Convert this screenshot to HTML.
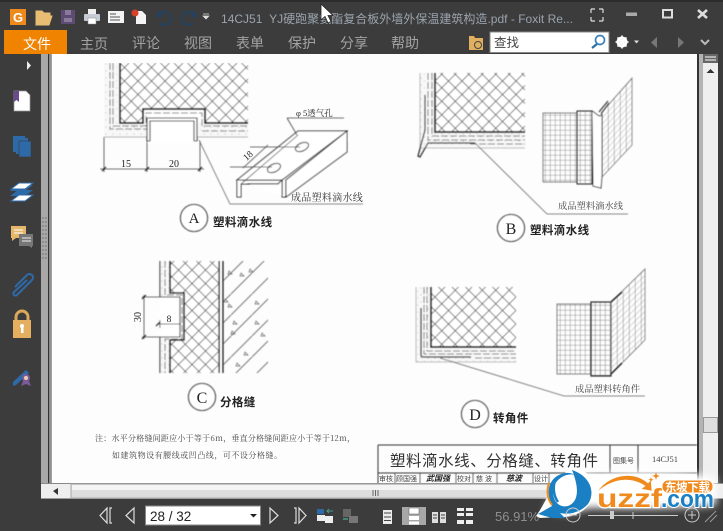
<!DOCTYPE html>
<html><head><meta charset="utf-8"><style>
html,body{margin:0;padding:0;background:#3c3c3c;width:723px;height:531px;overflow:hidden}
svg{display:block;font-family:"Liberation Sans","Noto Sans CJK SC",sans-serif}
</style></head><body>
<svg width="723" height="531" viewBox="0 0 723 531" xmlns="http://www.w3.org/2000/svg">
<defs>
<pattern id="dia" width="13.5" height="13.5" patternUnits="userSpaceOnUse" patternTransform="translate(3 0)">
<path d="M0 0L13.500 13.500M13.500 0L0 13.500" stroke="#666" stroke-width=".9"/></pattern>
<pattern id="dot" width="7" height="7" patternUnits="userSpaceOnUse"><rect width="7" height="7" fill="#f8f8f8"/><circle cx="1" cy="1" r=".55" fill="#aaa"/><circle cx="4.500" cy="4" r=".5" fill="#bbb"/></pattern>
<pattern id="grid" width="5" height="5" patternUnits="userSpaceOnUse"><path d="M0 0H5M0 0V5" stroke="#777" stroke-width=".8" fill="none"/></pattern>
<pattern id="gridD" width="5" height="5" patternUnits="userSpaceOnUse"><path d="M0 0H5M0 0V5" stroke="#666" stroke-width=".8" fill="none"/></pattern>
<pattern id="skew" width="6" height="6" patternUnits="userSpaceOnUse" patternTransform="translate(602 112) skewY(-48)"><path d="M0 0H6M0 0V6" stroke="#777" stroke-width=".8" fill="none"/></pattern>
<pattern id="skew2" width="6" height="6" patternUnits="userSpaceOnUse" patternTransform="translate(611 302) skewY(-44)"><path d="M0 0H6M0 0V6" stroke="#777" stroke-width=".8" fill="none"/></pattern>
<pattern id="conc" width="21" height="21" patternUnits="userSpaceOnUse"><path d="M0 21L21 0" stroke="#666" stroke-width=".9"/></pattern>
<filter id="b" x="0" y="0" width="100%" height="100%"><feGaussianBlur stdDeviation=".5"/></filter>
<filter id="t" x="-5%" y="-5%" width="110%" height="110%"><feGaussianBlur stdDeviation=".35"/></filter>
<filter id="glow" x="-20%" y="-20%" width="140%" height="140%"><feGaussianBlur stdDeviation="4"/></filter>
</defs>

<rect width="723" height="531" fill="#3c3c3c"/>
<rect x="0" y="0" width="723" height="2" fill="#2c2c2c"/>

<!-- document area -->
<rect x="41" y="54" width="7" height="445" fill="#a8a8a8"/>
<rect x="48" y="54" width="1.500" height="429" fill="#333"/>
<rect x="49.500" y="54" width="1" height="429" fill="#ddd"/>
<rect x="50.500" y="54" width="1" height="429" fill="#444"/>
<rect x="51.500" y="54" width="646" height="429" fill="#fdfdfd"/>
<rect x="697" y="54" width="2" height="429" fill="#333"/>
<rect x="699" y="54" width="4" height="445" fill="#b4b4b4"/>
<rect x="703" y="54" width="15" height="445" fill="#efefef"/>
<rect x="718" y="54" width="5" height="445" fill="#3c3c3c"/>
<rect x="703" y="54" width="15" height="9" fill="#666"/>
<path d="M705 57H716M705 60H716" stroke="#fff" stroke-width="1"/>
<path d="M710.500 69l-4 4h8z" fill="#333"/>
<rect x="703.500" y="417.500" width="14" height="15" fill="#dedede" stroke="#999"/>

<g filter="url(#b)">
<!-- A -->
<rect x="104" y="63" width="144" height="74" fill="url(#dot)"/>
<path d="M248 137H197V118H147V137H104" fill="none" stroke="#999" stroke-width=".8"/>
<rect x="120" y="63" width="128" height="60" fill="#fff"/>
<rect x="120" y="63" width="128" height="60" fill="url(#dia)"/>
<path d="M143 123V109H205V123" fill="#fff"/>
<rect x="147" y="118" width="50" height="25" fill="#fff"/>
<path d="M120 63V123H143V109H205V123H248" fill="none" stroke="#111" stroke-width="1.800"/>
<path d="M110 63V129H147M113 63V126H146V113H202V126H248M202 131H248" fill="none" stroke="#555" stroke-width=".8" stroke-dasharray="7 2"/>
<path d="M147 141V118H197V141M150 141V121H194V141M147 141H150M194 141H197" fill="none" stroke="#222" stroke-width="1.100"/>
<path d="M104 137V172M147 141V172M200 141V172M100 169H204" fill="none" stroke="#444" stroke-width=".8"/>
<path d="M102 171l4-4M145 171l4-4M198 171l4-4" stroke="#111" stroke-width="1.100"/>
<path d="M199 140L230 204H363" fill="none" stroke="#666" stroke-width=".8"/>
<path d="M237 180L298 131H347L282 180Z" fill="#fff" stroke="#222" stroke-width="1"/>
<path d="M237 180V197H241V184H278L282 180V197H286V180L347 131V152L286 197" fill="#fff" stroke="#222" stroke-width="1"/>
<path d="M241 184L298 135" stroke="#444" stroke-width=".8"/>
<ellipse cx="302" cy="147" rx="7" ry="4" transform="rotate(-25 302 147)" fill="#fff" stroke="#222"/>
<ellipse cx="274" cy="168" rx="7" ry="4" transform="rotate(-25 274 168)" fill="#fff" stroke="#222"/>
<path d="M250 147H300M230 167H272M243 168L268 145M287 118L297 135M287 118H344M347 131L347 142" fill="none" stroke="#444" stroke-width=".8"/>
<circle cx="194" cy="218" r="13.500" fill="#fff" stroke="#222" stroke-width="1.100"/>

<!-- B -->
<rect x="420" y="73" width="105" height="75" fill="url(#dot)"/>
<rect x="435" y="73" width="90" height="59" fill="#fff"/>
<rect x="435" y="73" width="90" height="59" fill="url(#dia)"/>
<path d="M435 73V132H525" fill="none" stroke="#111" stroke-width="1.800"/>
<path d="M420 73V148H525" fill="none" stroke="#aaa" stroke-width=".8"/>
<path d="M432 73V136H525M428 73V140H525M470 144H525" fill="none" stroke="#555" stroke-width=".8" stroke-dasharray="7 2"/>
<path d="M425 95V130L418 156L420 157L428 143H475" fill="none" stroke="#222" stroke-width="1.200"/>
<path d="M475 143L547 214H628" fill="none" stroke="#666" stroke-width=".8"/>
<circle cx="511" cy="228" r="13.500" fill="#fff" stroke="#222" stroke-width="1.100"/>
<rect x="543" y="113" width="34" height="69" fill="url(#grid)" stroke="#666" stroke-width=".8"/>
<rect x="577" y="111" width="15" height="73" fill="url(#gridD)" stroke="#222" stroke-width="1"/>
<path d="M602 112L632 78V145L602 177Z" fill="url(#skew)" stroke="#777" stroke-width=".8"/>
<path d="M592 111C596 113 597 116 600 116L602 115V176L601 188L593 186Z" fill="#fff" stroke="#222" stroke-width=".9"/>
<path d="M599 112L608 101M601 114L609 103" stroke="#222" stroke-width="1"/>

<!-- C -->
<rect x="160" y="261" width="10" height="112" fill="url(#dot)"/>
<rect x="170" y="261" width="49" height="112" fill="#fff"/>
<rect x="170" y="261" width="49" height="112" fill="url(#dia)"/>
<rect x="223" y="261" width="45" height="112" fill="url(#conc)"/>
<g fill="none" stroke="#666" stroke-width=".7">
<path d="M229 271l3 3h-4zM241 273l3 3h-4zM250 269l3 3h-4zM225 299l3 3h-4zM229 304l3 3h-4zM256 301l3 3h-4zM234 321l3 3h-4zM256 321l3 3h-4zM232 331l3 3h-4zM262 333l3 3h-4zM245 352l3 3h-4zM237 363l3 3h-4z"/>
</g>
<path d="M219 261V373M223 261V373" stroke="#111" stroke-width="1.200"/>
<path d="M160 297H170V293H184V340H170V337H160Z" fill="#fff"/>
<rect x="170" y="297" width="10" height="40" fill="#fff"/>
<path d="M160 261V297H180V337H160V373" fill="none" stroke="#222" stroke-width="1.100"/>
<path d="M170 261V293H184V340H170V373" fill="none" stroke="#111" stroke-width="1.600"/>
<path d="M165 261V295H182V339H165V373" fill="none" stroke="#555" stroke-width=".8" stroke-dasharray="7 2"/>
<path d="M142 297H160M142 337H160M144 295V339M158 324H181M160 320V328" fill="none" stroke="#444" stroke-width=".8"/>
<path d="M142 299l4-4M142 339l4-4M156 326l4-4" stroke="#111" stroke-width="1"/>
<circle cx="202" cy="397" r="13.500" fill="#fff" stroke="#222" stroke-width="1.100"/>

<!-- D -->
<rect x="416" y="287" width="100" height="75" fill="url(#dot)"/>
<rect x="431" y="287" width="85" height="60" fill="#fff"/>
<rect x="431" y="287" width="85" height="60" fill="url(#dia)"/>
<path d="M431 287V347H516" fill="none" stroke="#111" stroke-width="1.800"/>
<path d="M416 287V362H516" fill="none" stroke="#aaa" stroke-width=".8"/>
<path d="M427 287V351H516M424 287V354H516M475 358H516" fill="none" stroke="#555" stroke-width=".8" stroke-dasharray="7 2"/>
<path d="M421 308V355Q421 357 423 357H471" fill="none" stroke="#222" stroke-width="1.300"/>
<path d="M440 358L564 396H645" fill="none" stroke="#666" stroke-width=".8"/>
<circle cx="475" cy="414" r="13.500" fill="#fff" stroke="#222" stroke-width="1.100"/>
<rect x="557" y="304" width="34" height="70" fill="url(#grid)" stroke="#666" stroke-width=".8"/>
<rect x="591" y="302" width="20" height="74" fill="url(#gridD)" stroke="#222" stroke-width="1.200"/>
<path d="M611 302L645 269V340L611 374Z" fill="url(#skew2)" stroke="#777" stroke-width=".8"/>
<path d="M611 302L622 292M611 374L622 363" stroke="#111" stroke-width="1.400"/>

<!-- title block -->
<path d="M378 445H697M378 445V484M378 473H697M610 445V473M638 445V473" fill="none" stroke="#333" stroke-width="1"/>
<path d="M395 473V484M420 473V484M456 473V484M473 473V484M497 473V484M533 473V484M549 473V484" stroke="#444" stroke-width=".8"/>
</g>

<g filter="url(#t)" fill="#222">
<text x="126" y="167" font-family="Liberation Serif" font-size="10" text-anchor="middle">15</text>
<text x="174" y="167" font-family="Liberation Serif" font-size="10" text-anchor="middle">20</text>
<text x="296" y="116" font-size="8.500" font-family="Liberation Serif,Noto Serif CJK SC,serif">φ 5透气孔</text>
<text transform="translate(250 158) rotate(-42)" font-family="Liberation Serif" font-size="9.500" text-anchor="middle">18</text>
<text x="291" y="201" font-size="10" letter-spacing=".3" fill="#333" font-family="Noto Serif CJK SC,serif">成品塑料滴水线</text>
<text x="194" y="223" font-family="Liberation Serif" font-size="15" text-anchor="middle">A</text>
<text x="213" y="226" font-size="11.500" font-weight="700" letter-spacing=".4">塑料滴水线</text>
<text x="558" y="209" font-size="9.300" fill="#444" font-family="Noto Serif CJK SC,serif">成品塑料滴水线</text>
<text x="511" y="234" font-family="Liberation Serif" font-size="16" text-anchor="middle">B</text>
<text x="530" y="234" font-size="11.500" font-weight="700" letter-spacing=".4">塑料滴水线</text>
<text transform="translate(141 317) rotate(-90)" font-family="Liberation Serif" font-size="10" text-anchor="middle">30</text>
<text x="169" y="322" font-family="Liberation Serif" font-size="9.500" text-anchor="middle">8</text>
<text x="202" y="403" font-family="Liberation Serif" font-size="16" text-anchor="middle">C</text>
<text x="220" y="406" font-size="11.500" font-weight="700" letter-spacing=".4">分格缝</text>
<text x="95" y="441" font-size="8" fill="#444" textLength="260" font-family="Noto Serif CJK SC,serif">注：水平分格缝间距应小于等于6m，垂直分格缝间距应小于等于12m，</text>
<text x="112" y="458" font-size="8" fill="#444" textLength="170" font-family="Noto Serif CJK SC,serif">如建筑物设有腰线或凹凸线，可不设分格缝。</text>
<text x="575" y="392" font-size="9.300" fill="#444" font-family="Noto Serif CJK SC,serif">成品塑料转角件</text>
<text x="475" y="420" font-family="Liberation Serif" font-size="16" text-anchor="middle">D</text>
<text x="493" y="422" font-size="11.500" font-weight="700" letter-spacing=".4">转角件</text>
<text x="390" y="466" font-size="15.500" fill="#333" textLength="208">塑料滴水线、分格缝、转角件</text>
<text x="613" y="463" font-size="7" fill="#444">图集号</text>
<text x="652" y="462" font-family="Liberation Serif" font-size="8.500" fill="#444">14CJ51</text>
<text x="379" y="481" font-size="7" fill="#444">审核</text>
<text x="396" y="481" font-size="7" fill="#444">顾国强</text>
<text x="426" y="481" font-size="8" font-style="italic" font-weight="700">武国强</text>
<text x="457" y="481" font-size="7" fill="#444">校对</text>
<text x="476" y="481" font-size="7" fill="#444">慈 波</text>
<text x="506" y="481" font-size="8" font-style="italic" font-weight="700">慈波</text>
<text x="534" y="481" font-size="7" fill="#444">设计</text>
</g>

<!-- horizontal scrollbar -->
<rect x="41" y="483" width="682" height="16" fill="#eee"/>
<rect x="41" y="483" width="682" height="1" fill="#888"/>
<rect x="41" y="498" width="682" height="1" fill="#9a9a9a"/>
<rect x="71" y="484" width="640" height="14" fill="#dedede" stroke="#aaa"/>
<rect x="72" y="485" width="638" height="5" fill="#f4f4f4"/>
<path d="M373 490v6M375.500 490v6M378 490v6" stroke="#666"/>
<path d="M53 491l5-3v7z" fill="#333"/>

<!-- top toolbar -->
<rect x="10" y="9" width="16" height="16" fill="#ee8a1c"/>
<text x="18" y="22" font-size="13" font-weight="700" fill="#fff" text-anchor="middle">G</text>
<path d="M36 25V11H42L44 13H50V16H41L36 25H49L52 16H41" fill="#e8bc72" stroke="#e8bc72"/>
<rect x="61" y="10" width="14" height="14" fill="#5d4b73"/><rect x="65" y="10" width="6" height="5" fill="#8a7a9a"/><rect x="64" y="18" width="8" height="4" fill="#8a7a9a"/>
<rect x="88" y="9" width="8" height="5" fill="#eee"/><rect x="84" y="14" width="16" height="7" rx="1" fill="#c5ccd4"/><rect x="88" y="18" width="8" height="6" fill="#fff" stroke="#888" stroke-width=".5"/>
<rect x="108" y="11" width="16" height="12" fill="#f4f4f4"/><path d="M110 14h6M110 17h10M110 20h10" stroke="#555"/>
<path d="M136 11h6l4 4v9h-10z" fill="#f4f4f4"/><circle cx="135" cy="13" r="3.500" fill="#d9402a"/>
<path d="M160 11l-3 5h6M159 15a6.500 6.500 0 1 1 1 8" fill="none" stroke="#24425f" stroke-width="2"/>
<path d="M193 11l3 5h-6M194 15a6.500 6.500 0 1 0 -1 8" fill="none" stroke="#24425f" stroke-width="2"/>
<path d="M203 14h6M203 16l3 3 3-3z" fill="#ddd" stroke="#ddd" stroke-width=".7"/>
<text x="221" y="23" font-size="12" fill="#9aa3ad" textLength="352">14CJ51&#160;&#160;YJ硬跑聚氨酯复合板外墙外保温建筑构造.pdf - Foxit Re...</text>
<path d="M321 4V20L325 16.500L328 23L331 21.500L328 15.500H333Z" fill="#fff" stroke="#222" stroke-width=".8"/>
<path d="M591 9h4M591 9v4M603 9h-4M603 9v4M591 21h4M591 21v-4M603 21h-4M603 21v-4" stroke="#ddd" stroke-width="1.200" fill="none"/>
<rect x="626" y="12.500" width="11" height="3.500" fill="#aaa"/>
<rect x="663" y="10" width="9" height="7.500" fill="none" stroke="#ddd" stroke-width="2"/>
<path d="M698 10l9 8M707 10l-9 8" stroke="#ddd" stroke-width="2.600"/>

<!-- ribbon -->
<rect x="4" y="30" width="63" height="24" fill="#f08300"/>
<g font-size="14" fill="#a3a3a3">
<text x="23" y="49" fill="#fff">文件</text>
<text x="80" y="49">主页</text><text x="132" y="48">评论</text><text x="184" y="48">视图</text>
<text x="236" y="48">表单</text><text x="288" y="48">保护</text><text x="340" y="48">分享</text><text x="391" y="48">帮助</text>
</g>
<path d="M469 36h5l1 2h8v12h-14z" fill="#e0b060"/><circle cx="478" cy="45" r="3.500" fill="none" stroke="#444"/>
<rect x="490" y="32" width="119" height="20.500" fill="#fff" stroke="#888"/>
<text x="494" y="47" font-size="12.500" fill="#444">查找</text>
<circle cx="600" cy="40" r="4.500" fill="none" stroke="#3a80b8" stroke-width="1.700"/><path d="M597 44l-5 4" stroke="#2a70a8" stroke-width="2.200"/>
<circle cx="622" cy="42" r="4" fill="none" stroke="#fff" stroke-width="3"/>
<path d="M622 35.500v13M615.500 42h13M617.500 37.500l9 9M626.500 37.500l-9 9" stroke="#fff" stroke-width="1.600"/>
<path d="M634 40.500h5l-2.500 3z" fill="#ddd"/>
<path d="M657 37v11l-6-5.500z" fill="#777"/>
<path d="M678 37v11l6-5.500z" fill="#777"/>
<path d="M701 40l4 4 4-4" fill="none" stroke="#bbb" stroke-width="2"/>

<!-- sidebar -->
<path d="M27 61v9l4-4.500z" fill="#eee"/>
<path d="M14 91h12l4 4v16H14z" fill="#fff" stroke="#999" stroke-width=".7"/>
<path d="M14 91h5v11l-2.500-2-2.500 2z" fill="#6b4a8c"/>
<rect x="13" y="136" width="12" height="16" fill="#2f6aa8"/><rect x="16" y="138" width="12" height="16" fill="#2f6aa8"/><rect x="19" y="141" width="12" height="16" fill="#2f6aa8" stroke="#3c3c3c" stroke-width=".6"/>
<path d="M10 189l8-6h15l-8 6z" fill="#2f6aa8" transform="translate(0 7)"/>
<path d="M10 189l8-6h15l-8 6z" fill="#2f6aa8" transform="translate(0 2)"/>
<path d="M11 189l8-6h14l-8 6z" fill="#fff" stroke="#2f6aa8"/>
<path d="M11 201l8-6h14l-8 6z" fill="#fff" stroke="#2f6aa8"/>
<path d="M11 226h15v12H16l-4 3v-3h-1z" fill="#e4b76a"/><path d="M14 230h9M14 233h9" stroke="#fff"/>
<path d="M19 234h14v12h-1v2l-3-2H19z" fill="#777"/><path d="M22 238h9M22 241h9" stroke="#eee"/>
<path d="M15 287L27 275a3.500 3.500 0 0 1 5 5L17 295a2 2 0 0 1-3-3L27 280" fill="none" stroke="#2f6aa8" stroke-width="2"/>
<path d="M16 320v-3a6 6 0 0 1 12 0v3" fill="none" stroke="#d9a858" stroke-width="3"/>
<rect x="13" y="320" width="18" height="18" fill="#e4b060"/><rect x="21" y="326" width="2.500" height="7" fill="#fff"/><circle cx="22" cy="326" r="2" fill="#fff"/>
<path d="M13 382L26 370l3 3L16 385l-3 1z" fill="#2f6aa8"/>
<circle cx="26" cy="378" r="4" fill="#7a5a9a"/><circle cx="26" cy="378" r="2" fill="#e8d0b0"/><path d="M23 381l-2 5 5-2 5 2-2-5" fill="#7a5a9a"/>
<g fill="#666"><circle cx="43" cy="218" r=".7"/><circle cx="46" cy="218" r=".7"/><circle cx="43" cy="222" r=".7"/><circle cx="46" cy="222" r=".7"/><circle cx="43" cy="226" r=".7"/><circle cx="46" cy="226" r=".7"/><circle cx="43" cy="230" r=".7"/><circle cx="46" cy="230" r=".7"/><circle cx="43" cy="234" r=".7"/><circle cx="46" cy="234" r=".7"/><circle cx="43" cy="238" r=".7"/><circle cx="46" cy="238" r=".7"/><circle cx="43" cy="242" r=".7"/><circle cx="46" cy="242" r=".7"/><circle cx="43" cy="246" r=".7"/><circle cx="46" cy="246" r=".7"/><circle cx="43" cy="250" r=".7"/><circle cx="46" cy="250" r=".7"/><circle cx="43" cy="254" r=".7"/><circle cx="46" cy="254" r=".7"/><circle cx="43" cy="258" r=".7"/><circle cx="46" cy="258" r=".7"/></g>

<!-- bottom bar -->
<g fill="none" stroke="#ddd" stroke-width="1.200">
<path d="M107 508v15l-7-7.500zM112 508h-2v15h2"/>
<path d="M134 508v15l-8-7.500z"/>
<path d="M270 508v15l8-7.500z"/>
<path d="M299 508v15l7-7.500zM294 508h2v15h-2"/>
</g>
<rect x="145.500" y="506" width="115" height="19" fill="#fff" stroke="#888"/>
<text x="150" y="521" font-size="13.500" fill="#222">28 / 32</text>
<path d="M250 514h7l-3.500 3.500z" fill="#222"/>
<rect x="317" y="509" width="7" height="5" fill="#2f6aa8"/><rect x="317" y="515" width="8" height="6" fill="#eee"/><rect x="325" y="516" width="8" height="7" fill="#eee"/><path d="M333 511h-6l2-2M327 511l2 2" stroke="#4a9a8a" fill="none"/>
<rect x="343" y="509" width="8" height="8" fill="#666"/><rect x="349" y="516" width="9" height="7" fill="#777"/><path d="M343 519h5" stroke="#4a9a8a" stroke-width="1.500"/>
<rect x="383" y="510" width="9" height="14" fill="#fff" opacity=".9"/><path d="M384 513h7M384 517h7M384 520.500h7" stroke="#444"/>
<rect x="402" y="507" width="24" height="18" fill="#a8a8a8"/>
<rect x="409" y="508" width="10" height="6" fill="#fff" stroke="#555" stroke-width=".5"/><rect x="409" y="516" width="10" height="4" fill="#fff"/><rect x="409" y="521.500" width="10" height="3" fill="#fff"/>
<rect x="432" y="512" width="6" height="11" fill="#ddd"/><rect x="440" y="512" width="6" height="11" fill="#ddd"/><path d="M433 515h4M433 518h4M441 515h4M441 518h4" stroke="#444"/>
<path d="M457 508h7v3h-7zM457 513h7v3h-7zM457 520h7v4h-7zM466 508h7v3h-7zM466 513h7v3h-7zM466 520h7v4h-7z" fill="#eee"/>
<text x="495" y="521" font-size="13" fill="#8e8e8e">56.91%</text>

<!-- watermark logo -->
<path d="M545 510C558 478 575 468 600 474C630 470 680 470 716 478V505C680 509 620 509 590 508L565 514Z" fill="#fff" filter="url(#glow)"/>
<path d="M536 516C548 500 552 480 572 468C590 468 598 485 592 500C586 512 572 518 560 517L540 518Z" fill="#fff"/>
<path d="M538 514L552 506C546 494 548 482 557 476C564 472 570 472 575 475C566 472 553 480 553 492C553 502 560 508 568 506C578 502 580 490 572 470C590 476 596 492 588 504C580 513 568 515 560 513L565 518L552 518Z" fill="#1b7fc4"/>
<path d="M549 483C546 492 548 500 552 505" fill="none" stroke="#f08a1d" stroke-width="2"/>
<path d="M555 480C552 490 555 498 558 502" fill="none" stroke="#1b7fc4" stroke-width="2.500"/>
<path d="M597 492C607 476 632 469 648 483L651 480L652 491L641 489L645 486C630 476 612 479 597 492Z" fill="#f08a1d" stroke="#fff" stroke-width=".6"/>
<text x="597" y="507" font-size="26" font-weight="700" fill="#f08a1d" stroke="#fff" stroke-width="2.500" paint-order="stroke" textLength="65" lengthAdjust="spacingAndGlyphs">uzzf</text>
<text x="661" y="507" font-size="24" font-weight="700" fill="#1b7fc4" stroke="#fff" stroke-width="2" paint-order="stroke" textLength="53" lengthAdjust="spacingAndGlyphs">.com</text>
<rect x="662" y="480" width="51" height="13" rx="6" fill="#f08a1d" stroke="#fff" stroke-width="1"/>
<text x="665" y="491" font-size="11.500" font-weight="700" fill="#fff" textLength="45">东坡下载</text>
<path d="M656 472l1 3 3 1-3 1-1 3-1-3-3-1 3-1zM651 477l.7 2 2 .7-2 .7-.7 2-.7-2-2-.7 2-.7z" fill="#f08a1d"/>

<!-- zoom controls above logo -->
<circle cx="573" cy="515" r="7" fill="none" stroke="#ccc"/><path d="M569 515h8" stroke="#ccc"/>
<path d="M588 515.500H678" stroke="#ccc"/><path d="M633 512v7" stroke="#ccc"/>
<rect x="610" y="511" width="4" height="8" fill="#ccc"/>
<circle cx="692" cy="515" r="7" fill="none" stroke="#ccc"/><path d="M688 515h8M692 511v8" stroke="#ccc"/>
<path d="M705 522l11-11M710 522l7-7" stroke="#999"/>
</svg>
</body></html>
